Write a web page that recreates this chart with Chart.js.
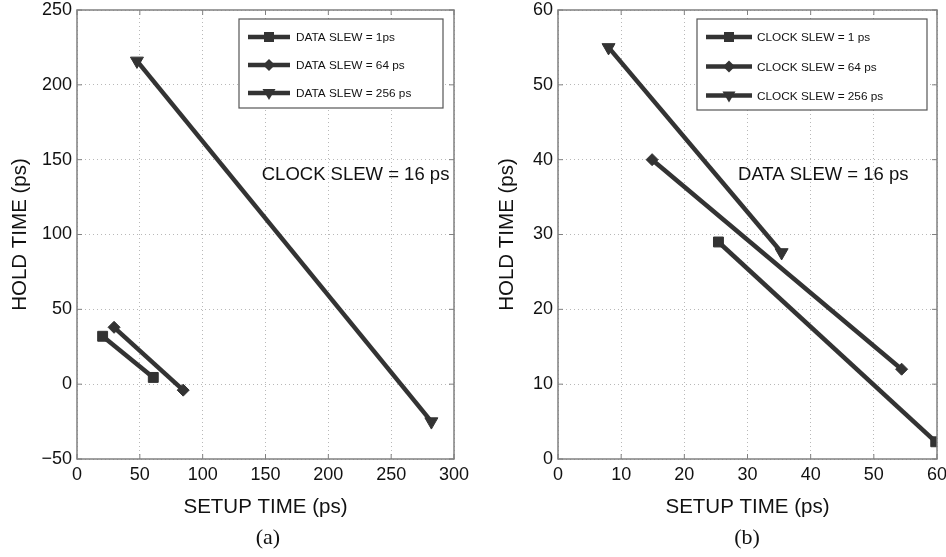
<!DOCTYPE html>
<html>
<head>
<meta charset="utf-8">
<script src="https://cdn.jsdelivr.net/npm/chart.js@4.4.0/dist/chart.umd.min.js"></script>
<style>
body { margin: 0; background: #fff; width: 946px; height: 557px; position: relative; overflow: hidden; }
canvas { position: absolute; top: 0; }
#chartA { left: 0; }
#chartB { left: 482px; }
.cap { position: absolute; top: 524px; width: 60px; text-align: center; font-family: "Liberation Serif", serif; font-size: 22px; color: #111; }
</style>
</head>
<body>
<canvas id="chartA" width="473" height="557"></canvas>
<canvas id="chartB" width="464" height="557"></canvas>
<div class="cap" style="left:238px">(a)</div>
<div class="cap" style="left:717px">(b)</div>
<script>
// (a) clock slew = 16 ps, data slew varies
const setupA1 = [20.4, 60.7];
const holdA1 = [32, 4.5];
const setupA64 = [29.5, 84.5];
const holdA64 = [38, -4];
const setupA256 = [47.7, 282];
const holdA256 = [216, -25];
const labelsA = ['DATA SLEW = 1ps', 'DATA SLEW = 64 ps', 'DATA SLEW = 256 ps'];
const xTicksA = [0, 50, 100, 150, 200, 250, 300];
const yTicksA = [-50, 0, 50, 100, 150, 200, 250];

// (b) data slew = 16 ps, clock slew varies
const setupB1 = [25.4, 59.8];
const holdB1 = [29, 2.3];
const setupB64 = [14.9, 54.4];
const holdB64 = [40, 12];
const setupB256 = [8, 35.4];
const holdB256 = [55, 27.6];
const labelsB = ['CLOCK SLEW = 1 ps', 'CLOCK SLEW = 64 ps', 'CLOCK SLEW = 256 ps'];
const xTicksB = [0, 10, 20, 30, 40, 50, 60];
const yTicksB = [0, 10, 20, 30, 40, 50, 60];

const INK = '#333';
const FRAME = '#808080';
const FONT = "'Liberation Sans', Arial, sans-serif";

const toPts = (xs, ys) => xs.map((x, i) => ({ x: x, y: ys[i] }));

function series(label, xs, ys, style, radius, rotation) {
    return {
        label: label,
        data: toPts(xs, ys),
        showLine: true,
        borderColor: INK,
        backgroundColor: INK,
        borderWidth: 4.5,
        pointStyle: style,
        pointRadius: radius,
        pointRotation: rotation,
        pointBackgroundColor: INK,
        pointBorderColor: INK,
        pointBorderWidth: 1
    };
}

// marker for the legend box
function marker(ctx, style, x, y) {
    ctx.fillStyle = INK;
    ctx.beginPath();
    if (style === 'rect') {
        ctx.rect(x - 5, y - 5, 10, 10);
    } else if (style === 'rectRot') {
        ctx.moveTo(x, y - 6); ctx.lineTo(x + 6, y); ctx.lineTo(x, y + 6); ctx.lineTo(x - 6, y);
    } else {
        ctx.moveTo(x - 6.5, y - 4); ctx.lineTo(x + 6.5, y - 4); ctx.lineTo(x, y + 7);
    }
    ctx.closePath();
    ctx.fill();
}

// frame, inward ticks, boxed legend and the in-plot note
const paperPlugin = {
    id: 'paper',
    afterDatasetsDraw(chart, args, opts) {
        const ctx = chart.ctx;
        const a = chart.chartArea;
        const xs = chart.scales.x, ys = chart.scales.y;
        ctx.save();
        ctx.strokeStyle = FRAME;
        ctx.lineWidth = 1.5;
        ctx.strokeRect(a.left, a.top, a.right - a.left, a.bottom - a.top);
        ctx.lineWidth = 1;
        ctx.beginPath();
        xs.ticks.forEach(t => {
            const p = xs.getPixelForValue(t.value);
            ctx.moveTo(p, a.bottom); ctx.lineTo(p, a.bottom - 5);
            ctx.moveTo(p, a.top); ctx.lineTo(p, a.top + 5);
        });
        ys.ticks.forEach(t => {
            const p = ys.getPixelForValue(t.value);
            ctx.moveTo(a.left, p); ctx.lineTo(a.left + 5, p);
            ctx.moveTo(a.right, p); ctx.lineTo(a.right - 5, p);
        });
        ctx.stroke();

        // note text
        ctx.fillStyle = '#111';
        ctx.font = '18.5px ' + FONT;
        ctx.textBaseline = 'middle';
        ctx.textAlign = 'left';
        ctx.fillText(opts.note, xs.getPixelForValue(opts.noteX), ys.getPixelForValue(opts.noteY));

        // legend box
        const bx = a.right - opts.boxRight - opts.boxW;
        const by = a.top + 9;
        ctx.fillStyle = '#fff';
        ctx.fillRect(bx, by, opts.boxW, opts.boxH);
        ctx.strokeStyle = '#555';
        ctx.lineWidth = 1.2;
        ctx.strokeRect(bx, by, opts.boxW, opts.boxH);
        ctx.font = '11.8px ' + FONT;
        chart.data.datasets.forEach((ds, i) => {
            const y = by + opts.rows[i];
            ctx.strokeStyle = INK;
            ctx.lineWidth = 4.5;
            ctx.beginPath();
            ctx.moveTo(bx + 9, y);
            ctx.lineTo(bx + opts.lineEnd, y);
            ctx.stroke();
            marker(ctx, ds.pointStyle, bx + 9 + (opts.lineEnd - 9) / 2, y);
            ctx.fillStyle = '#111';
            ctx.fillText(ds.label, bx + opts.textX, y + 1);
        });
        ctx.restore();
    }
};

function buildChart(id, datasets, xTicks, yTicks, cfg) {
    const ctx = document.getElementById(id).getContext('2d');
    return new Chart(ctx, {
        type: 'scatter',
        data: { datasets: datasets },
        options: {
            responsive: false,
            animation: false,
            devicePixelRatio: 1,
            layout: { padding: { top: 10, right: cfg.padRight, left: 0, bottom: 0 } },
            plugins: {
                legend: { display: false },
                tooltip: { enabled: false },
                paper: cfg.paper
            },
            scales: {
                x: {
                    type: 'linear',
                    min: xTicks[0],
                    max: xTicks[xTicks.length - 1],
                    afterBuildTicks: s => { s.ticks = xTicks.map(v => ({ value: v })); },
                    afterFit: s => { s.height = 98; s.paddingLeft = 0; s.paddingRight = 0; },
                    grid: { color: '#b8b8b8', drawTicks: false },
                    border: { display: false, dash: [1, 3] },
                    ticks: { padding: 5, color: '#111', font: { family: FONT, size: 18 }, maxRotation: 0 },
                    title: { display: true, text: 'SETUP TIME (ps)', color: '#111',
                             font: { family: FONT, size: 20.5 }, padding: { top: 0, bottom: 37.5 } }
                },
                y: {
                    type: 'linear',
                    min: yTicks[0],
                    max: yTicks[yTicks.length - 1],
                    afterBuildTicks: s => { s.ticks = yTicks.map(v => ({ value: v })); },
                    afterFit: s => { s.width = cfg.yWidth; s.paddingTop = 0; s.paddingBottom = 0; },
                    grid: { color: '#b8b8b8', drawTicks: false },
                    border: { display: false, dash: [1, 3] },
                    ticks: { padding: 5, color: '#111', font: { family: FONT, size: 18 },
                             callback: v => String(v).replace('-', '\u2212') },
                    title: { display: true, text: 'HOLD TIME (ps)', color: '#111',
                             font: { family: FONT, size: 20.5 }, padding: { top: cfg.yTitlePad, bottom: 0 } }
                }
            }
        },
        plugins: [paperPlugin]
    });
}

buildChart('chartA', [
    series(labelsA[0], setupA1, holdA1, 'rect', 7, 0),
    series(labelsA[1], setupA64, holdA64, 'rectRot', 6, 0),
    series(labelsA[2], setupA256, holdA256, 'triangle', 7.5, 180)
], xTicksA, yTicksA, {
    padRight: 19, yWidth: 77, yTitlePad: 7.7,
    paper: { note: 'CLOCK SLEW = 16 ps', noteX: 147, noteY: 140,
             boxRight: 11, boxW: 204, boxH: 89, rows: [18, 46, 74], lineEnd: 51, textX: 57 }
});

buildChart('chartB', [
    series(labelsB[0], setupB1, holdB1, 'rect', 7, 0),
    series(labelsB[1], setupB64, holdB64, 'rectRot', 6, 0),
    series(labelsB[2], setupB256, holdB256, 'triangle', 7.5, 180)
], xTicksB, yTicksB, {
    padRight: 9, yWidth: 76, yTitlePad: 12.7,
    paper: { note: 'DATA SLEW = 16 ps', noteX: 28.5, noteY: 38,
             boxRight: 10, boxW: 230, boxH: 91, rows: [18, 47.5, 76.5], lineEnd: 55, textX: 60 }
});
</script>
</body>
</html>
